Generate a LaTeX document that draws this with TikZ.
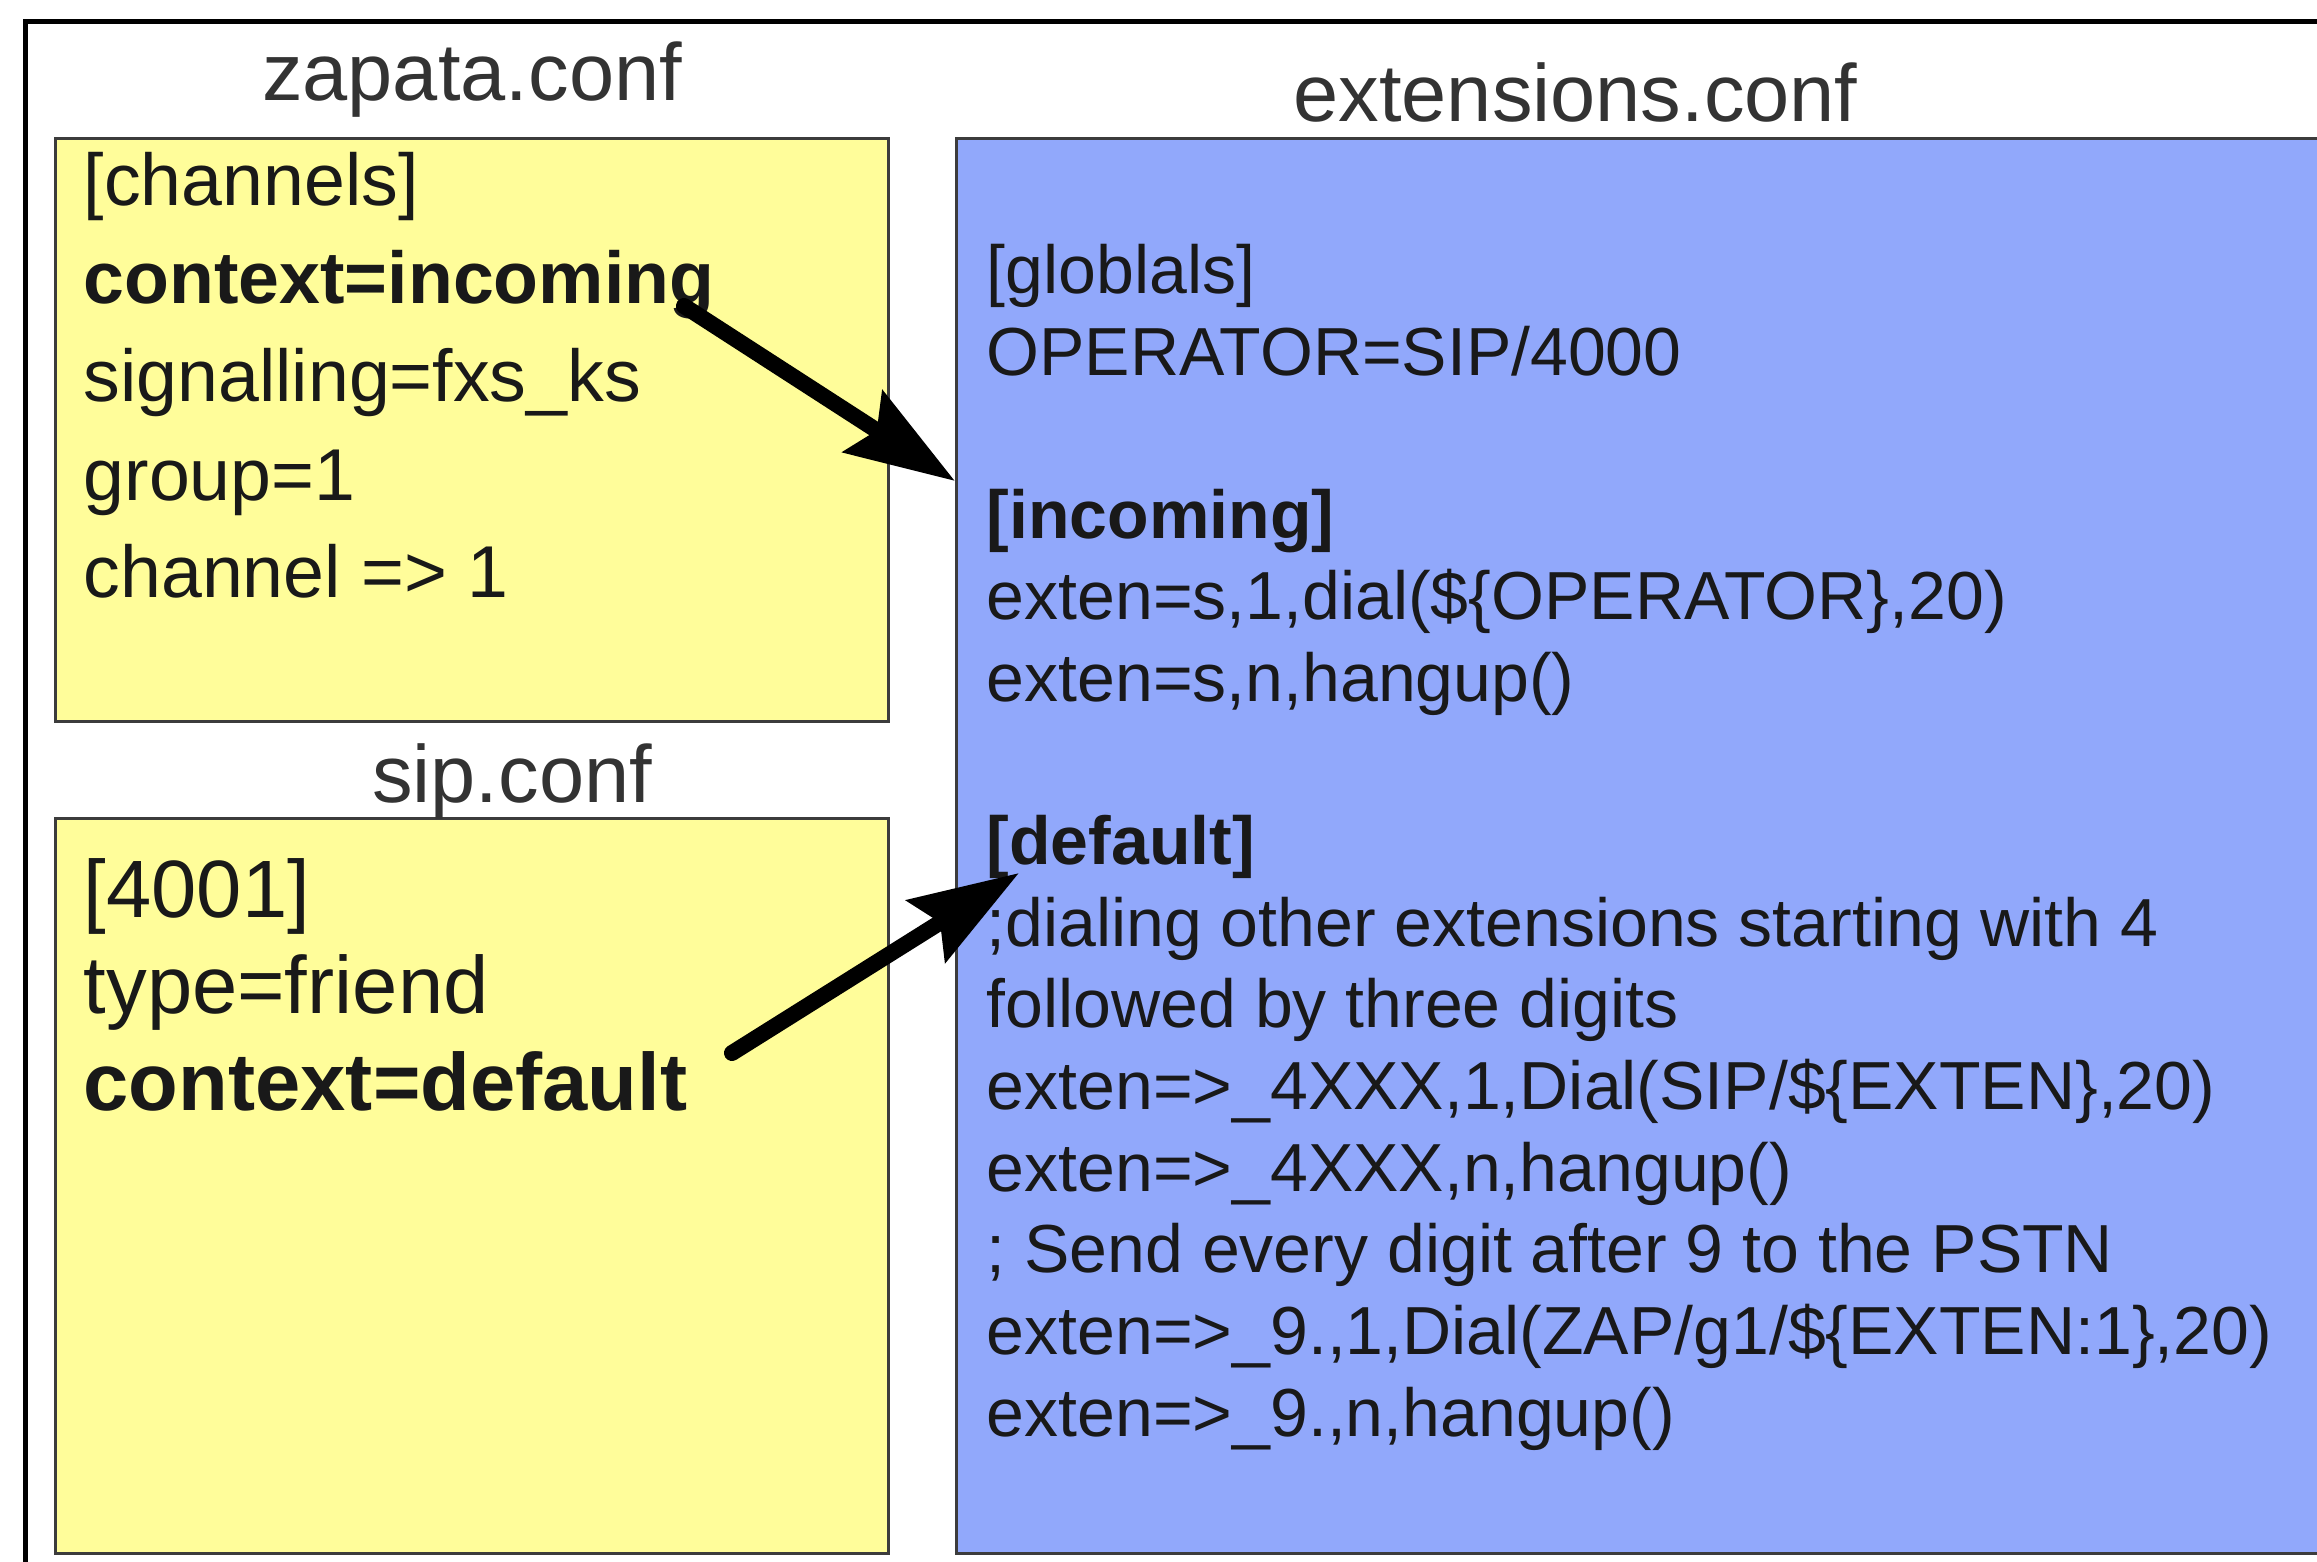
\documentclass[tikz,border=0pt]{standalone}
\usepackage{fontspec}
\setmainfont{Liberation Sans}
\usetikzlibrary{arrows.meta}
\definecolor{confyellow}{RGB}{255,253,154}
\definecolor{confblue}{RGB}{145,168,251}
\definecolor{confedge}{RGB}{60,60,60}
\newcommand{\zapfont}{\fontsize{20.9pt}{25pt}\selectfont}
\newcommand{\sipfont}{\fontsize{23.15pt}{28pt}\selectfont}
\newcommand{\extfont}{\fontsize{19.35pt}{23pt}\selectfont}
\newcommand{\titlefont}{\fontsize{23.1pt}{28pt}\selectfont}
\begin{document}
\begin{tikzpicture}[
    confbox/.style={draw=confedge,line width=0.03cm,inner sep=0pt,anchor=north west},
    codeline/.style={anchor=base west,inner sep=0pt,text=black!90},
    conftitle/.style={anchor=base,inner sep=0pt,font=\titlefont,text=black!80},
    link/.style={line width=0.16cm,line cap=round,-{Stealth[length=1.09cm,width=0.72cm,inset=0.16cm]}}]
      \clip (0,0) rectangle (23.17,-15.62);
      \draw [line width=0.05cm] (0.255,-0.215) rectangle (24,-16);
      % boxes
      \node [confbox,fill=confyellow,minimum width=8.325cm,minimum height=5.83cm] (zapata) at (0.54,-1.37) {};
      \node [confbox,fill=confyellow,minimum width=8.325cm,minimum height=7.355cm] (sip) at (0.54,-8.165) {};
      \node [confbox,fill=confblue,minimum width=14.5cm,minimum height=14.15cm] (ext) at (9.55,-1.37) {};
      % titles
      \node [conftitle] (zapataTitle) at (4.72,-1.005) {zapata.conf};
      \node [conftitle] (sipTitle) at (5.12,-8.02) {sip.conf};
      \node [conftitle] (extTitle) at (15.755,-1.22) {extensions.conf};
      % zapata.conf lines
      \foreach \txt [count=\i from 0] in {{[channels]},{\bfseries context=incoming},{signalling=fxs\_ks},{group=1},{channel => 1}}
        \node [codeline,font=\zapfont] (zap\i) at (0.83,-2.06-0.98*\i) {\txt};
      % sip.conf lines
      \foreach \txt [count=\i from 0] in {{[4001]},{type=friend},{\bfseries context=default}}
        \node [codeline,font=\sipfont] (sip\i) at (0.83,-9.17-0.965*\i) {\txt};
      % extensions.conf lines
      \foreach \i/\txt in {1/{[globlals]},2/{OPERATOR=SIP/4000},4/{\bfseries [incoming]},
          5/{exten=s,1,dial(\$\{OPERATOR\},20)},6/{exten=s,n,hangup()},8/{\bfseries [default]},
          9/{;dialing other extensions starting with 4},10/{followed by three digits},
          11/{exten=>\_4XXX,1,Dial(SIP/\$\{EXTEN\},20)},12/{exten=>\_4XXX,n,hangup()},
          13/{; Send every digit after 9 to the PSTN},14/{exten=>\_9.,1,Dial(ZAP/g1/\$\{EXTEN:1\},20)},
          15/{exten=>\_9.,n,hangup()}}
        \node [codeline,font=\extfont] (ext\i) at (9.86,-2.12-0.816*\i) {\txt};
      % context links
      \coordinate (incomingTail) at (6.84,-3.06);
      \coordinate (incomingHead) at (ext.west |- 0,-4.81);
      \coordinate (defaultTail) at (7.32,-10.53);
      \coordinate (defaultHead) at (10.19,-8.73);
      \draw [link] (incomingTail) -- (incomingHead);
      \draw [link] (defaultTail) -- (defaultHead);
\end{tikzpicture}
\end{document}
